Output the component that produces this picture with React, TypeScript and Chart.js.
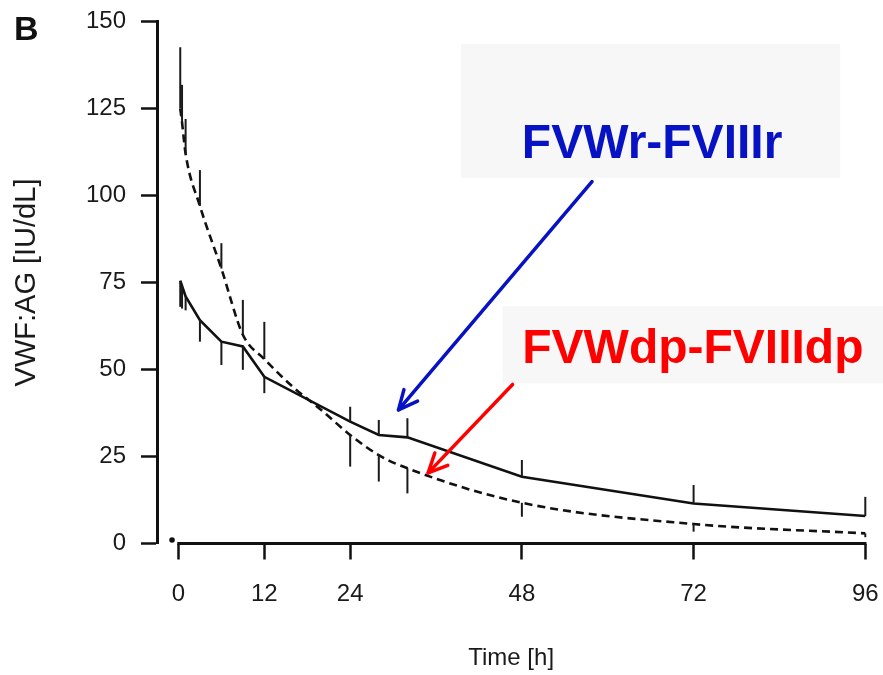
import React, { useEffect, useRef } from "react";
import { Chart, registerables } from "chart.js";

Chart.register(...registerables);

// ---------- data ----------
const panelLabel = "B";
const xTitle = "Time [h]";
const yTitle = "VWF:AG [IU/dL]";
const xTickValues = [0, 12, 24, 48, 72, 96];
const yTickValues = [0, 25, 50, 75, 100, 125, 150];

// solid curve (mean) and end of its one-sided error bar
const solidTimes = [0.25, 0.5, 1, 3, 6, 9, 12, 24, 28, 32, 48, 72, 96];
const solidValues = [75.5, 74, 71, 64.2, 58, 56.6, 47.9, 35, 31.2, 30.5, 19.2, 11.5, 7.9];
const solidErrorEnds = [68, 67.5, 67, 58, 51.3, 49.9, 43.2, 39.3, 35.5, 36, 24, 16.8, 13.4];

// dashed curve (mean) and end of its one-sided error bar
const dashedTimes = [0.25, 0.5, 1, 3, 6, 9, 12, 16, 20, 24, 28, 32, 48, 72, 96];
const dashedValues = [125, 121, 112, 97, 79, 60, 53, 45, 38.3, 31.2, 25.4, 21.6, 11.7, 5.6, 2.9];
const dashedErrorEnds = [142.6, 131.8, 122, 107.3, 86.3, 70, 63.7, 45, 38.3, 22.1, 17.8, 14.4, 7.7, 3.4, 1.8];

// pre-dose point
const baselineTimes = [-0.9];
const baselineValues = [1];

// annotation texts
const annotationLabels = ["FVWr-FVIIIr", "FVWdp-FVIIIdp"];
const annotationColors = ["#0712c4", "#ff0000"];

// ---------- annotation layout (in data coordinates) ----------
const annotationLayout = [
  { box: [39.5, 143.5, 92.5, 105], text: [66.2, 110.7], arrow: [57.8, 104, 30.75, 38.4] },
  { box: [45.3, 68.2, 98.6, 46], text: [71.9, 51.8], arrow: [46.7, 45.7, 34.9, 20.3] },
];

const FONT = '"Liberation Sans", Arial, Helvetica, sans-serif';

function drawArrow(ctx: CanvasRenderingContext2D, x1: number, y1: number, x2: number, y2: number, color: string) {
  ctx.strokeStyle = color;
  ctx.lineWidth = 3.5;
  ctx.lineCap = "round";
  ctx.lineJoin = "round";
  ctx.beginPath();
  ctx.moveTo(x1, y1);
  ctx.lineTo(x2, y2);
  ctx.stroke();
  const ang = Math.atan2(y1 - y2, x1 - x2);
  const L = 21;
  const a = 0.44;
  ctx.beginPath();
  ctx.moveTo(x2 + L * Math.cos(ang + a), y2 + L * Math.sin(ang + a));
  ctx.lineTo(x2, y2);
  ctx.lineTo(x2 + L * Math.cos(ang - a), y2 + L * Math.sin(ang - a));
  ctx.stroke();
}

const decorPlugin = {
  id: "decor",
  beforeDatasetsDraw(chart: any) {
    const { ctx, chartArea } = chart;
    const xs = chart.scales.x;
    const ys = chart.scales.y;
    ctx.save();
    // annotation boxes
    ctx.fillStyle = "#f7f7f7";
    for (const a of annotationLayout) {
      const x1 = xs.getPixelForValue(a.box[0]);
      const y1 = ys.getPixelForValue(a.box[1]);
      const x2 = xs.getPixelForValue(a.box[2]);
      const y2 = ys.getPixelForValue(a.box[3]);
      ctx.fillRect(Math.min(x1, x2), Math.min(y1, y2), Math.abs(x2 - x1), Math.abs(y2 - y1));
    }
    // x axis line from first to last tick
    ctx.strokeStyle = "#111";
    ctx.lineWidth = 3;
    ctx.lineCap = "butt";
    ctx.beginPath();
    const xa = xs.getPixelForValue(xTickValues[0]) - 1.2;
    const xb = xs.getPixelForValue(xTickValues[xTickValues.length - 1]) + 1.2;
    ctx.moveTo(xa, chartArea.bottom);
    ctx.lineTo(xb, chartArea.bottom);
    ctx.stroke();
    ctx.restore();
  },
  afterDatasetsDraw(chart: any) {
    const { ctx } = chart;
    const xs = chart.scales.x;
    const ys = chart.scales.y;
    ctx.save();
    // error bars
    ctx.strokeStyle = "#1a1a1a";
    ctx.lineWidth = 2;
    ctx.lineCap = "butt";
    const bars: [number[], number[], number[]][] = [
      [solidTimes, solidValues, solidErrorEnds],
      [dashedTimes, dashedValues, dashedErrorEnds],
    ];
    for (const [t, v, e] of bars) {
      for (let i = 0; i < t.length; i++) {
        if (e[i] === v[i]) continue;
        const x = xs.getPixelForValue(t[i]);
        ctx.beginPath();
        ctx.moveTo(x, ys.getPixelForValue(v[i]));
        ctx.lineTo(x, ys.getPixelForValue(e[i]));
        ctx.stroke();
      }
    }
    // annotation texts and arrows
    annotationLayout.forEach((a, i) => {
      ctx.fillStyle = annotationColors[i];
      ctx.font = `bold 48px ${FONT}`;
      ctx.textAlign = "center";
      ctx.textBaseline = "alphabetic";
      ctx.fillText(annotationLabels[i], xs.getPixelForValue(a.text[0]), ys.getPixelForValue(a.text[1]));
      drawArrow(
        ctx,
        xs.getPixelForValue(a.arrow[0]),
        ys.getPixelForValue(a.arrow[1]),
        xs.getPixelForValue(a.arrow[2]),
        ys.getPixelForValue(a.arrow[3]),
        annotationColors[i]
      );
    });
    // panel label
    ctx.fillStyle = "#111";
    ctx.font = `bold 34px ${FONT}`;
    ctx.textAlign = "left";
    ctx.textBaseline = "alphabetic";
    ctx.fillText(panelLabel, 14, 40);
    ctx.restore();
  },
};

export default function App() {
  const canvasRef = useRef<HTMLCanvasElement | null>(null);

  useEffect(() => {
    const canvas = canvasRef.current;
    if (!canvas) return;
    const chart = new Chart(canvas, {
      type: "line",
      data: {
        datasets: [
          {
            label: "solid",
            data: solidTimes.map((t, i) => ({ x: t, y: solidValues[i] })),
            borderColor: "#111",
            borderWidth: 2.6,
            pointRadius: 0,
            tension: 0,
            fill: false,
            clip: false,
          } as any,
          {
            label: "dashed",
            data: dashedTimes.map((t, i) => ({ x: t, y: dashedValues[i] })),
            borderColor: "#111",
            borderWidth: 2.6,
            borderDash: [8, 5],
            pointRadius: 0,
            cubicInterpolationMode: "monotone",
            fill: false,
            clip: false,
          } as any,
          {
            label: "baseline",
            data: baselineTimes.map((t, i) => ({ x: t, y: baselineValues[i] })),
            showLine: false,
            pointRadius: 2.8,
            pointBackgroundColor: "#111",
            pointBorderWidth: 0,
            clip: false,
          } as any,
        ],
      },
      options: {
        responsive: false,
        animation: false,
        layout: { padding: { top: 21.5, right: 17.7, left: 0, bottom: 0 } },
        plugins: {
          legend: { display: false },
          tooltip: { enabled: false },
        },
        scales: {
          x: {
            type: "linear",
            min: -3,
            max: 96,
            afterBuildTicks: (s: any) => {
              s.ticks = xTickValues.map((v) => ({ value: v }));
            },
            afterFit: (s: any) => {
              s.height = 131.5;
              s.paddingLeft = 0;
              s.paddingRight = 0;
            },
            grid: {
              drawOnChartArea: false,
              drawTicks: true,
              tickLength: 16,
              tickWidth: 2.5,
              tickColor: "#111",
            },
            border: { display: false },
            ticks: {
              autoSkip: false,
              maxRotation: 0,
              padding: 20,
              color: "#1a1a1a",
              font: { family: FONT, size: 24 },
            },
            title: {
              display: true,
              text: xTitle,
              color: "#1a1a1a",
              font: { family: FONT, size: 24 },
              padding: { top: 0, bottom: 2 },
            },
          },
          y: {
            type: "linear",
            min: 0,
            max: 150,
            afterBuildTicks: (s: any) => {
              s.ticks = yTickValues.map((v) => ({ value: v }));
            },
            afterFit: (s: any) => {
              s.width = 157;
              s.paddingTop = 0;
              s.paddingBottom = 0;
            },
            grid: {
              drawOnChartArea: false,
              drawTicks: true,
              tickLength: 16,
              tickWidth: 2.5,
              tickColor: "#111",
            },
            border: { display: true, color: "#111", width: 3 },
            ticks: {
              padding: 15,
              color: "#1a1a1a",
              font: { family: FONT, size: 24 },
            },
            title: {
              display: true,
              text: yTitle,
              color: "#1a1a1a",
              font: { family: FONT, size: 29 },
              padding: { top: 10, bottom: 0 },
            },
          },
        },
      },
      plugins: [decorPlugin],
    } as any);
    return () => chart.destroy();
  }, []);

  return (
    <div style={{ position: "absolute", left: 0, top: 0, width: 883, height: 675, background: "#fff" }}>
      <canvas ref={canvasRef} width={883} height={675} style={{ display: "block" }} />
    </div>
  );
}
